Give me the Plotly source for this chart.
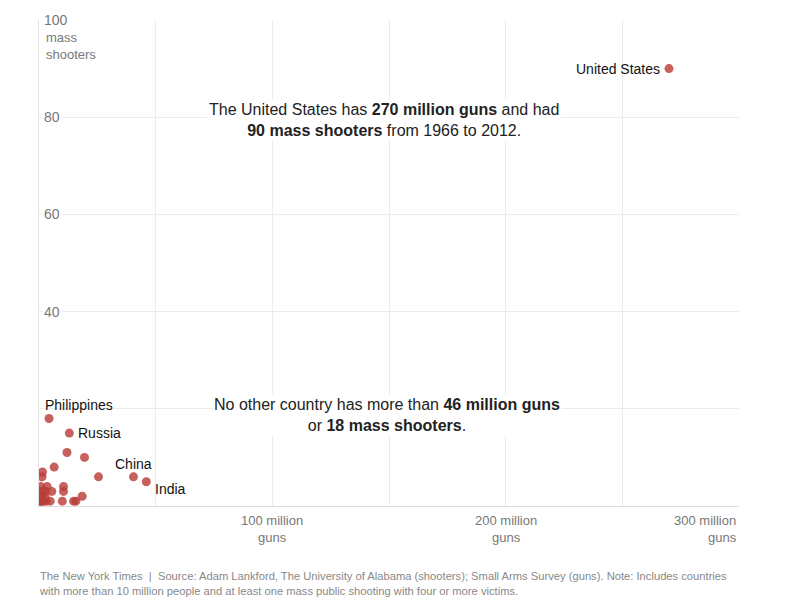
import plotly.graph_objects as go

# Guns (millions) and mass shooters 1966-2012
countries = ["United States", "Philippines", "Russia", "China", "India"]
named_guns = [270, 4.3, 13, 40.5, 46]
named_shooters = [90, 18, 15, 6, 5]

other_guns = [12, 19.5, 6.5, 1.5, 1.3, 25.5, 3.5, 10.5, 10.5, 5.5, 18.5, 15.8, 14.8,
              10, 4.8, 1.3, 0.2, 0.4, 0.3, 1.2, 2.0, 2.6, 3.0, 1.8, 0.8, 2.8, 0.5]
other_shooters = [11, 10, 8, 7, 6, 6, 4, 4, 3, 3, 2, 1, 1,
                  1, 1, 1, 1, 2, 3, 2, 3, 2, 1, 1, 4, 3, 1]

x_ticks = [100, 200, 300]
x_tick_labels = ["100 million<br>guns", "200 million<br>guns", "300 million<br>guns"]
y_ticks = [40, 60, 80]

FONT = "Liberation Sans, Arial, sans-serif"
DOT = "rgba(185,62,56,0.82)"

fig = go.Figure()
fig.add_trace(go.Scatter(x=other_guns, y=other_shooters, mode="markers",
                         marker=dict(size=9, color=DOT, line=dict(width=0)),
                         hoverinfo="skip", showlegend=False))
fig.add_trace(go.Scatter(x=named_guns, y=named_shooters, mode="markers",
                         marker=dict(size=9, color=DOT, line=dict(width=0)),
                         hoverinfo="skip", showlegend=False))

# Country labels
label_pos = {
    "United States": dict(xanchor="right", yanchor="middle", xshift=-7, yshift=0),
    "Philippines": dict(xanchor="left", yanchor="bottom", xshift=-6, yshift=4),
    "Russia": dict(xanchor="left", yanchor="middle", xshift=7, yshift=0),
    "China": dict(xanchor="right", yanchor="bottom", xshift=20, yshift=3),
    "India": dict(xanchor="left", yanchor="top", xshift=7, yshift=3),
}
for name, gx, gy in zip(countries, named_guns, named_shooters):
    p = label_pos[name]
    fig.add_annotation(x=gx, y=gy, text=name, showarrow=False,
                       font=dict(family=FONT, size=14, color="#111"), **p)

# Y tick labels drawn inside plot with white background
for v in y_ticks:
    fig.add_annotation(xref="paper", x=0, y=v, text=str(v), showarrow=False,
                       xanchor="left", yanchor="middle", xshift=3,
                       bgcolor="white", borderpad=1,
                       font=dict(family=FONT, size=14, color="#777"))
fig.add_annotation(xref="paper", x=0, y=100, text="100", showarrow=False,
                   xanchor="left", yanchor="middle", xshift=3, bgcolor="white", borderpad=1,
                   font=dict(family=FONT, size=14, color="#777"))
fig.add_annotation(xref="paper", x=0, y=100, text="mass<br>shooters", showarrow=False,
                   xanchor="left", yanchor="top", xshift=5, yshift=-8, align="left",
                   font=dict(family=FONT, size=13, color="#777"))

# X tick labels
for v, t in zip(x_ticks, x_tick_labels):
    anchor = "right" if v == 300 else "center"
    fig.add_annotation(x=v, yref="paper", y=0, text=t, showarrow=False,
                       xanchor=anchor, yanchor="top", yshift=-5, align=anchor,
                       font=dict(family=FONT, size=13, color="#777"))

# Explanatory annotations
fig.add_annotation(x=148, y=79.4, text="The United States has <b>270 million guns</b> and had<br>"
                   "<b>90 mass shooters</b> from 1966 to 2012.",
                   showarrow=False, align="center", bgcolor="white",
                   font=dict(family=FONT, size=16, color="#222"))
fig.add_annotation(x=149, y=18.7, text="No other country has more than <b>46 million guns</b><br>"
                   "or <b>18 mass shooters</b>.",
                   showarrow=False, align="center", bgcolor="white",
                   font=dict(family=FONT, size=16, color="#222"))

# Footer
fig.add_annotation(xref="paper", yref="paper", x=-0.003, y=-0.128, xanchor="left", yanchor="top",
                   text="The New York Times  |  Source: Adam Lankford, The University of Alabama (shooters); "
                        "Small Arms Survey (guns). Note: Includes countries<br>"
                        "with more than 10 million people and at least one mass public shooting with four or more victims.",
                   showarrow=False, align="left",
                   font=dict(family=FONT, size=11.2, color="#888"))

# The page body adds an 8px margin, so the figure is sized and offset to compensate
fig.update_layout(
    width=784, height=597,
    margin=dict(l=31, r=53, t=12, b=99),
    paper_bgcolor="white", plot_bgcolor="white",
    xaxis=dict(range=[0, 300], tickvals=[50, 100, 150, 200, 250, 300], showticklabels=False,
               showgrid=True, gridcolor="#ececec", gridwidth=1, zeroline=False,
               showline=True, linecolor="#dcdcdc", ticks=""),
    yaxis=dict(range=[0, 100], tickvals=[20, 40, 60, 80, 100], showticklabels=False,
               showgrid=True, gridcolor="#ececec", gridwidth=1, zeroline=False,
               showline=True, linecolor="#e2e2e2", ticks=""),
    showlegend=False,
)

fig.write_html("out.html")
